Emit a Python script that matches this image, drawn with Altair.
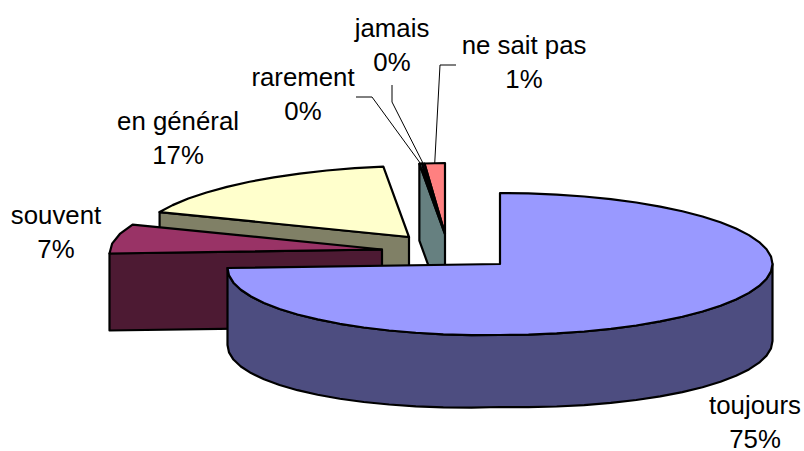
import math
import altair as alt
import pandas as pd

# Survey answers, clockwise from twelve o'clock
names = ["toujours", "souvent", "en général", "rarement", "jamais", "ne sait pas"]
shares = [75.0, 6.6, 16.9, 0.15, 0.15, 1.2]
top_colors = ["#9999FF", "#993366", "#FFFFCC", "#CCFFFF", "#660066", "#FF8080"]
side_colors = ["#4D4D80", "#4D1A33", "#808066", "#668080", "#330033", "#804040"]

# Exploded position of each slice's apex on the canvas
apex_x = [500, 382, 409, 445, 445, 445]
apex_y = [264, 249.5, 237, 234, 234, 234]

# Label placement: centre of the text block and top of its first line
label_x = [755, 56, 178, 303, 392, 524]
label_y = [394, 204, 110, 66, 17, 34]

# Elbow points of the leader lines for the three smallest slices
leader_elbows = {
    "rarement": [(356, 97), (372, 97)],
    "jamais": [(392, 85), (392, 102)],
    "ne sait pas": [(456, 65), (440, 65)],
}

RX, RY = 272.5, 71
DEPTH = 77
STEP = 6.0


def rim(i, deg):
    t = math.radians(deg)
    droop = 4 * max(0.0, -math.sin(t))
    return (apex_x[i] + RX * math.sin(t), apex_y[i] - RY * math.cos(t) + droop)


def arc(i, a, b):
    n = max(1, int(abs(b - a) / STEP))
    return [rim(i, a + (b - a) * k / n) for k in range(n + 1)]


starts = []
total = 0.0
for s in shares:
    starts.append(total * 3.6)
    total += s

rows = []


def add_polygon(pid, fill, pts):
    for k, (x, y) in enumerate(pts):
        rows.append({"poly": pid, "k": k, "x": x, "y": y, "fill": fill})


def add_radial_face(pid, i, deg):
    ax, ay = apex_x[i], apex_y[i]
    ex, ey = rim(i, deg)
    pts = [(ax, ay), (ex, ey), (ex, ey + DEPTH), (ax, ay + DEPTH)]
    add_polygon(pid, side_colors[i], pts)


def add_top(pid, i):
    a = starts[i]
    b = a + shares[i] * 3.6
    add_polygon(pid, top_colors[i], [(apex_x[i], apex_y[i])] + arc(i, a, b))


# Painted back to front
add_top("p00", 5)
add_top("p01", 4)
add_radial_face("p02", 3, starts[3])
add_top("p03", 3)
add_radial_face("p04", 2, starts[2])
add_top("p05", 2)
add_radial_face("p06", 1, starts[1])
add_top("p07", 1)

# Curved wall of the large slice, from its right extreme round to the left one
wall_top = arc(0, 90, 270)
wall_bottom = [(x, y + 72 + 5 * abs(math.sin(math.radians(90 + 180 * k / (len(wall_top) - 1)))))
               for k, (x, y) in enumerate(wall_top)]
add_polygon("p08", side_colors[0], wall_top + wall_bottom[::-1])
add_top("p09", 0)

polys = pd.DataFrame(rows)

leader_rows = []
for name, elbows in leader_elbows.items():
    i = names.index(name)
    mid = starts[i] + shares[i] * 1.8
    for k, (x, y) in enumerate(elbows + [rim(i, mid)]):
        leader_rows.append({"name": name, "k": k, "x": x, "y": y})
leaders = pd.DataFrame(leader_rows)

labels = pd.DataFrame({
    "text": [f"{n}\n{round(s)}%" for n, s in zip(names, shares)],
    "x": label_x,
    "y": label_y,
})

x_enc = alt.X("x:Q", axis=None, scale=alt.Scale(domain=[0, 804], nice=False, zero=False))
y_enc = alt.Y("y:Q", axis=None, scale=alt.Scale(domain=[451, 0], nice=False, zero=False))

faces = alt.Chart(polys).mark_line(
    filled=True, stroke="black", strokeWidth=2.2, strokeJoin="round",
    interpolate="linear-closed", clip=False,
).encode(
    x=x_enc, y=y_enc,
    detail="poly:N",
    order="k:Q",
    fill=alt.Fill("fill:N", scale=None),
)

leader_lines = alt.Chart(leaders).mark_line(color="black", strokeWidth=1).encode(
    x=x_enc, y=y_enc, detail="name:N", order="k:Q",
)

text = alt.Chart(labels).mark_text(
    font="Liberation Sans", fontSize=25.8, color="black",
    align="center", baseline="top", lineBreak="\n", lineHeight=34,
).encode(x=x_enc, y=y_enc, text="text:N")

chart = alt.layer(faces, leader_lines, text).properties(
    width=804, height=451, padding=0, autosize=alt.AutoSizeParams(type="none"),
    background="white",
).configure_view(stroke=None)

chart.save("out.html", embed_options={"renderer": "svg", "actions": False})
